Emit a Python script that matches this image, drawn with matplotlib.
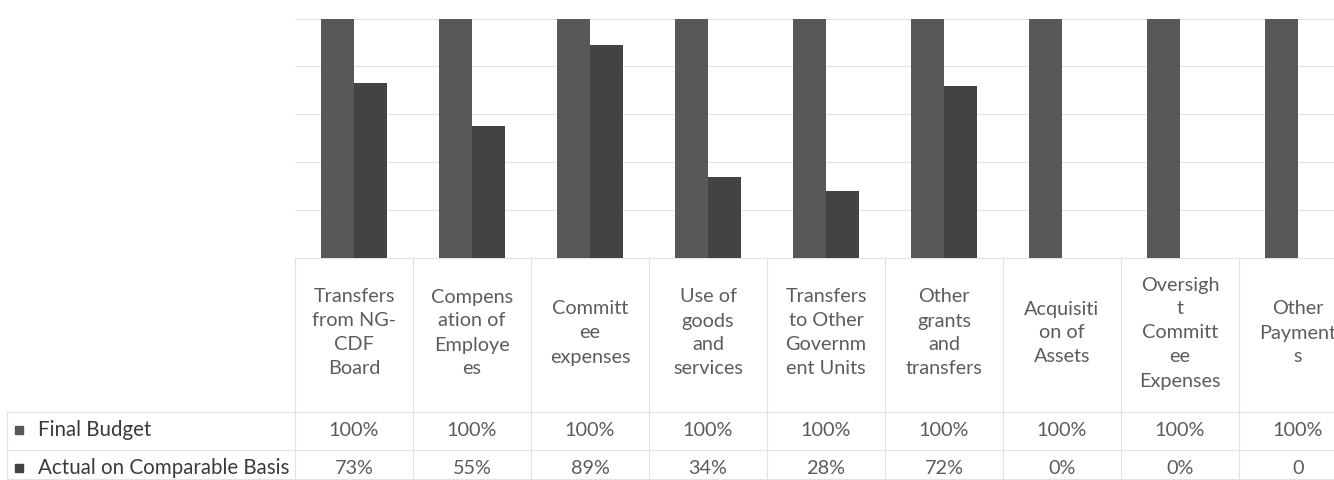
import matplotlib
matplotlib.use("Agg")
import matplotlib.pyplot as plt
from matplotlib import transforms
from matplotlib.patches import Rectangle

plt.rcParams['font.family'] = ['Lato', 'DejaVu Sans']

# 数据
categories = ["Transfers\nfrom NG-\nCDF\nBoard", "Compens\nation of\nEmploye\nes",
              "Committ\nee\nexpenses", "Use of\ngoods\nand\nservices",
              "Transfers\nto Other\nGovernm\nent Units", "Other\ngrants\nand\ntransfers",
              "Acquisiti\non of\nAssets", "Oversigh\nt\nCommitt\nee\nExpenses",
              "Other\nPayment\ns"]
final_budget = [1.00, 1.00, 1.00, 1.00, 1.00, 1.00, 1.00, 1.00, 1.00]
actual = [0.73, 0.55, 0.89, 0.34, 0.28, 0.72, 0.00, 0.00, 0.00]
final_labels = ["100%"] * 9
actual_labels = ["73%", "55%", "89%", "34%", "28%", "72%", "0%", "0%", "0"]
series_names = ["Final Budget", "Actual on Comparable Basis"]

W, H = 1334, 480
c_final = '#585858'
c_actual = '#434343'
grid_c = '#e2e2e2'
txt_c = '#5c5c5c'
fs = 14.3


def fy(p):
    # 像素(从上往下) -> figure 坐标
    return (H - p) / H


fig = plt.figure(figsize=(W / 100, H / 100), dpi=100)
fig.patch.set_facecolor('white')
ax = fig.add_axes([295 / W, fy(258), (W - 295) / W, 239.5 / H])

x = list(range(len(categories)))
bw = 0.28
ax.bar([i - bw / 2 for i in x], final_budget, bw, color=c_final, zorder=3)
ax.bar([i + bw / 2 for i in x], actual, bw, color=c_actual, zorder=3)

ax.set_xlim(-0.5, (W - 354) / 118)
ax.set_ylim(0, 1.0)
ax.set_yticks([0.2, 0.4, 0.6, 0.8, 1.0])
ax.yaxis.grid(True, color=grid_c, lw=0.8, zorder=0)
ax.set_xticks([])
ax.tick_params(left=False, labelleft=False)
for s in ax.spines.values():
    s.set_visible(False)

# 数据表
tr = transforms.blended_transform_factory(ax.transData, fig.transFigure)
line_kw = dict(color=grid_c, lw=0.8, clip_on=False)
ax.plot([-0.5, 9], [fy(258), fy(258)], transform=tr, **line_kw)
for k in range(len(categories) + 1):
    ax.plot([k - 0.5, k - 0.5], [fy(258), fy(480)], transform=tr, **line_kw)
for p in (412, 450, 479):
    fig.add_artist(plt.Line2D([7 / W, 1], [fy(p), fy(p)], color=grid_c, lw=0.8))
fig.add_artist(plt.Line2D([7 / W, 7 / W], [fy(412), fy(480)], color=grid_c, lw=0.8))

for i, lab in enumerate(categories):
    ax.text(i, fy(333), lab, transform=tr, ha='center', va='center',
            fontsize=fs, color=txt_c, linespacing=1.5)
    ax.text(i, fy(430), final_labels[i], transform=tr, ha='center', va='center',
            fontsize=fs, color=txt_c)
    ax.text(i, fy(468), actual_labels[i], transform=tr, ha='center', va='center',
            fontsize=fs, color=txt_c)

for p, name, c in ((430, series_names[0], c_final), (468, series_names[1], c_actual)):
    fig.add_artist(Rectangle((15 / W, fy(p + 4)), 8 / W, 8 / H, color=c))
    fig.text(38 / W, fy(p), name, ha='left', va='center', fontsize=fs + 0.5,
             color='#3a3a3a')

fig.savefig('out.png', dpi=100, facecolor='white')
